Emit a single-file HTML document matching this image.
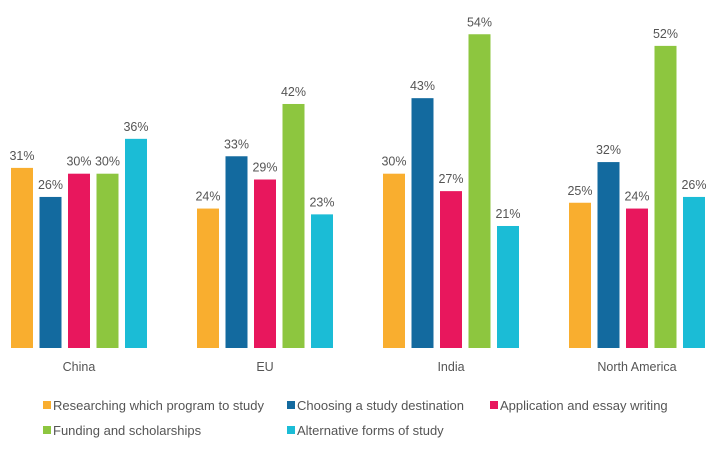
<!DOCTYPE html>
<html><head><meta charset="utf-8"><style>
body{margin:0;background:#fff;font-family:"Liberation Sans",sans-serif;}
svg text{font-family:"Liberation Sans",sans-serif;fill:#555;}
</style></head><body>
<svg id="chart" width="713" height="448"></svg>
<script>
const categories=["China","EU","India","North America"];
const seriesNames=["Researching which program to study","Choosing a study destination","Application and essay writing","Funding and scholarships","Alternative forms of study"];
const colors=["#F9AE2F","#136A9F","#E8175D","#8DC63F","#1BBCD6"];
const researching=[31,24,30,25];
const destination=[26,33,43,32];
const application=[30,29,27,24];
const funding=[30,42,54,52];
const alternative=[36,23,21,26];
const series=[researching,destination,application,funding,alternative];
const NS="http://www.w3.org/2000/svg";
const svg=document.getElementById('chart');
const baseY=348, pxPer=5.81;
const y=v=>baseY-v*pxPer;
const groupX=i=>79+i*186;
const barW=22, step=28.5;
function mk(t,a){const e=document.createElementNS(NS,t);for(const k in a)e.setAttribute(k,a[k]);svg.appendChild(e);return e;}
categories.forEach((c,i)=>{
  series.forEach((s,j)=>{
    const cx=groupX(i)+(j-2)*step;
    const r=mk('rect',{x:cx-barW/2,y:y(s[i]),width:barW,height:s[i]*pxPer,fill:colors[j]});
    
    
    const t=mk('text',{x:cx,y:y(s[i])-8,'text-anchor':'middle','font-size':12.5});
    t.textContent=s[i]+'%';
    
    
  });
  const l=mk('text',{x:groupX(i),y:371,'text-anchor':'middle','font-size':12.5});
  l.textContent=c;
  
  
});
const legPos=[[43,410],[287,410],[490,410],[43,435],[287,435]];
seriesNames.forEach((n,j)=>{
  const [lx,ly]=legPos[j];
  const r=mk('rect',{x:lx,y:ly-9,width:8,height:8,fill:colors[j]});
  
  
  const t=mk('text',{x:lx+10,y:ly,'font-size':13});
  t.textContent=n;
  
  
});
</script>
</body></html>
